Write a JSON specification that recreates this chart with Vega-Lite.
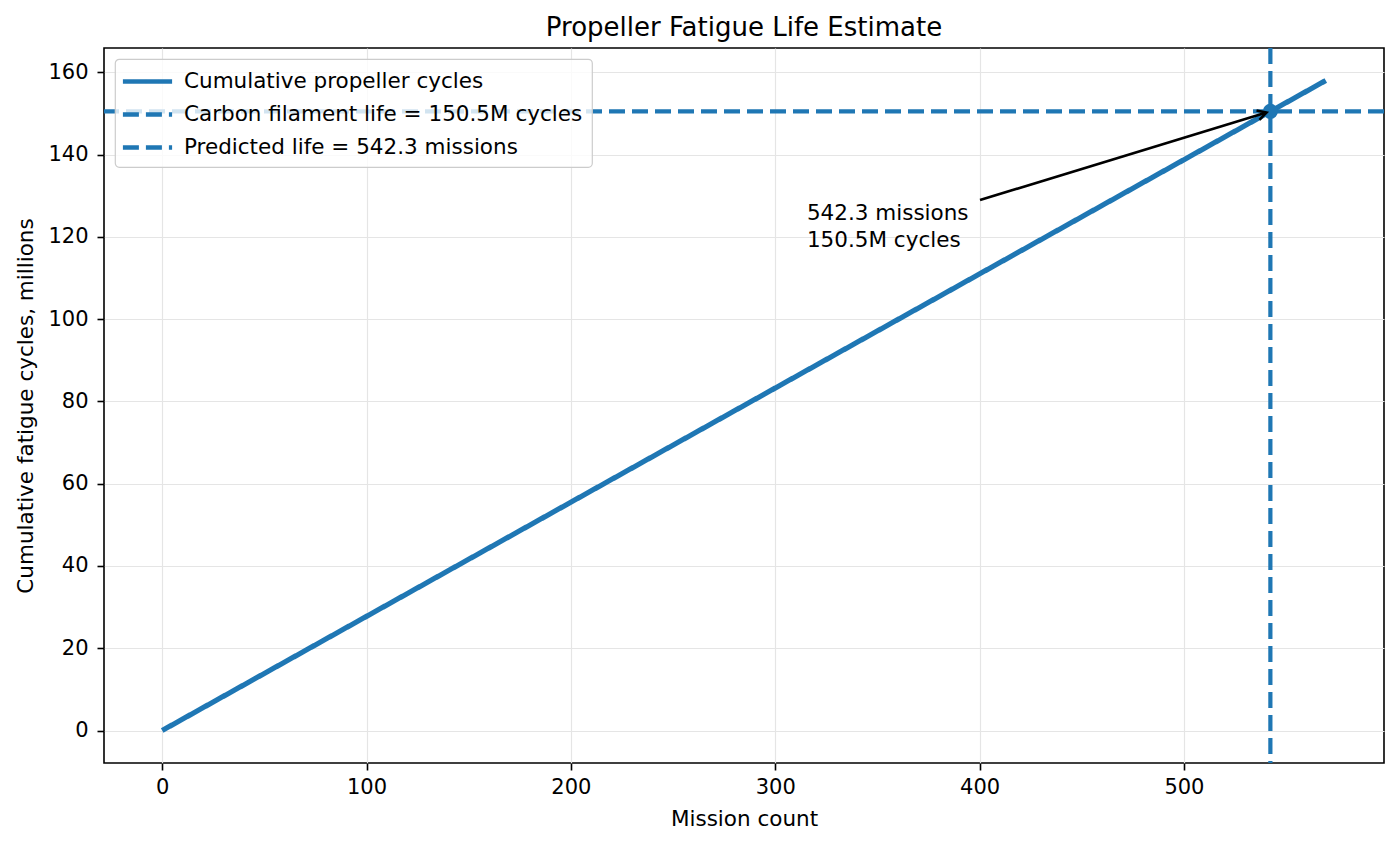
{
  "$schema": "https://vega.github.io/schema/vega-lite/v6.json",
  "width": 1280,
  "height": 715,
  "autosize": {"type": "none"},
  "padding": {"left": 104, "top": 48, "right": 16, "bottom": 84},
  "background": "white",
  "title": {"text": "Propeller Fatigue Life Estimate", "fontSize": 26, "font": "DejaVu Sans", "fontWeight": "normal", "color": "black", "offset": 5},
  "config": {
    "font": "DejaVu Sans",
    "view": {"stroke": "black", "strokeWidth": 1.6},
    "axis": {
      "domain": false,
      "grid": true,
      "gridColor": "#e5e5e5",
      "gridWidth": 1.2,
      "labelFont": "DejaVu Sans",
      "labelFontSize": 21,
      "labelColor": "black",
      "titleFont": "DejaVu Sans",
      "titleFontSize": 21.5,
      "titleFontWeight": "normal",
      "titleColor": "black",
      "tickColor": "black",
      "tickWidth": 1.6,
      "tickSize": 7
    },
    "legend": {
      "orient": "top-left",
      "offset": 11,
      "padding": 9,
      "fillColor": "rgba(255,255,255,0.8)",
      "strokeColor": "#cccccc",
      "strokeWidth": 1.2,
      "cornerRadius": 4,
      "symbolType": "M -2.2 0 L 2.2 0",
      "symbolSize": 500,
      "symbolOffset": 10,
      "symbolStrokeWidth": 4.5,
      "labelFont": "DejaVu Sans",
      "labelFontSize": 21.5,
      "labelColor": "black",
      "labelLimit": 600,
      "labelOffset": 23,
      "rowPadding": 9
    }
  },
  "datasets": {
    "cum": [
      {"mission": 0, "cycles": 0, "series": "Cumulative propeller cycles"},
      {"mission": 569.4, "cycles": 158.0, "series": "Cumulative propeller cycles"}
    ],
    "hline": [{"cycles": 150.5, "series": "Carbon filament life = 150.5M cycles"}],
    "vline": [{"mission": 542.3, "series": "Predicted life = 542.3 missions"}],
    "pt": [{"mission": 542.3, "cycles": 150.5}],
    "arrow": [{"mission": 400.2, "cycles": 128.95, "mission2": 540.4, "cycles2": 150.2}],
    "label": [{"mission": 315.5, "cycles": 124.1, "label": "542.3 missions\n150.5M cycles"}]
  },
  "layer": [
    {
      "data": {"name": "cum"},
      "mark": {"type": "line", "strokeWidth": 5.2},
      "encoding": {
        "x": {"field": "mission", "type": "quantitative", "scale": {"domain": [-28.47, 597.9], "nice": false, "zero": false},
              "axis": {"title": "Mission count", "values": [0, 100, 200, 300, 400, 500], "titlePadding": 11, "labelPadding": 6}},
        "y": {"field": "cycles", "type": "quantitative", "scale": {"domain": [-7.9, 165.9], "nice": false, "zero": false},
              "axis": {"title": "Cumulative fatigue cycles, millions", "values": [0, 20, 40, 60, 80, 100, 120, 140, 160], "titlePadding": 10, "labelPadding": 9}},
        "color": {"field": "series", "type": "nominal",
                  "scale": {"domain": ["Cumulative propeller cycles", "Carbon filament life = 150.5M cycles", "Predicted life = 542.3 missions"], "range": ["#1f77b4", "#1f77b4", "#1f77b4"]},
                  "legend": {"title": null, "orient": "top-left"}},
        "strokeDash": {"field": "series", "type": "nominal",
                  "scale": {"domain": ["Cumulative propeller cycles", "Carbon filament life = 150.5M cycles", "Predicted life = 542.3 missions"], "range": [[1, 0], [16, 7], [16, 7]]},
                  "legend": {"title": null, "orient": "top-left"}}
      }
    },
    {
      "data": {"name": "hline"},
      "mark": {"type": "rule", "strokeWidth": 4.2},
      "encoding": {
        "y": {"field": "cycles", "type": "quantitative"},
        "color": {"field": "series", "type": "nominal"},
        "strokeDash": {"field": "series", "type": "nominal"}
      }
    },
    {
      "data": {"name": "vline"},
      "mark": {"type": "rule", "strokeWidth": 4.2},
      "encoding": {
        "x": {"field": "mission", "type": "quantitative"},
        "color": {"field": "series", "type": "nominal"},
        "strokeDash": {"field": "series", "type": "nominal"}
      }
    },
    {
      "data": {"name": "pt"},
      "mark": {"type": "point", "filled": true, "size": 230, "color": "#1f77b4", "opacity": 1},
      "encoding": {
        "x": {"field": "mission", "type": "quantitative"},
        "y": {"field": "cycles", "type": "quantitative"}
      }
    },
    {
      "data": {"name": "arrow"},
      "mark": {"type": "rule", "color": "black", "strokeWidth": 2.6},
      "encoding": {
        "x": {"field": "mission", "type": "quantitative"},
        "y": {"field": "cycles", "type": "quantitative"},
        "x2": {"field": "mission2"},
        "y2": {"field": "cycles2"}
      }
    },
    {
      "data": {"name": "arrow"},
      "mark": {"type": "point", "shape": "M -0.55 1 L 0 0 L 0.55 1", "filled": false, "stroke": "black", "strokeWidth": 2.6, "size": 320, "angle": 73, "opacity": 1},
      "encoding": {
        "x": {"field": "mission2", "type": "quantitative"},
        "y": {"field": "cycles2", "type": "quantitative"}
      }
    },
    {
      "data": {"name": "label"},
      "mark": {"type": "text", "align": "left", "baseline": "alphabetic", "fontSize": 21.5, "lineBreak": "\n", "lineHeight": 27, "color": "black", "font": "DejaVu Sans"},
      "encoding": {
        "x": {"field": "mission", "type": "quantitative"},
        "y": {"field": "cycles", "type": "quantitative"},
        "text": {"field": "label"}
      }
    }
  ]
}
